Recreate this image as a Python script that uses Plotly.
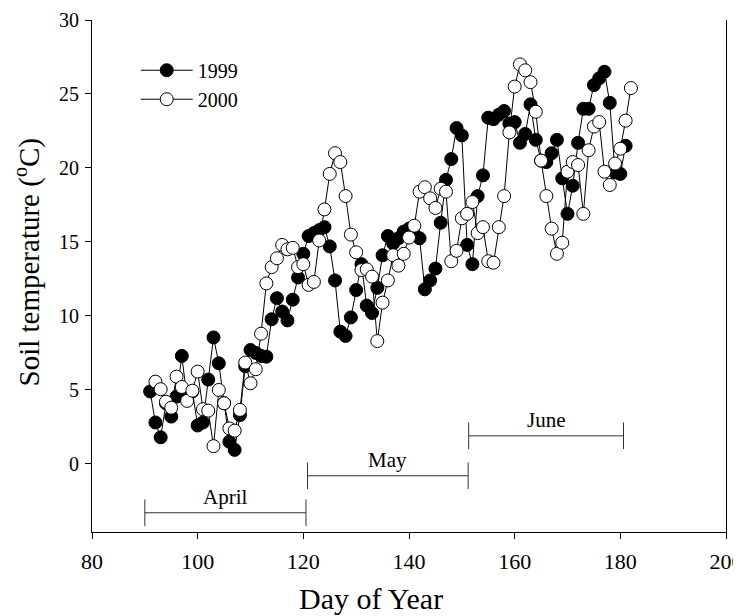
import plotly.graph_objects as go

# ---- data ----
start_1999 = 91
temp_1999 = [4.9, 2.8, 1.8, 4.1, 3.2, 4.55, 7.3, 4.4, 4.9, 2.6,
             2.8, 5.7, 8.55, 6.8, 4.1, 1.5, 0.95, 3.3, 6.6, 7.7,
             7.5, 7.3, 7.25, 9.78, 11.2, 10.3, 9.7, 11.1, 12.6, 14.2,
             15.4, 15.6, 15.8, 16.0, 14.7, 12.4, 8.94, 8.65, 9.9, 11.75,
             13.5, 10.7, 10.2, 11.9, 14.1, 15.4, 14.9, 15.25, 15.7, 15.9,
             15.5, 15.25, 11.8, 12.4, 13.2, 16.3, 19.2, 20.6, 22.7, 22.2,
             14.8, 13.5, 18.1, 19.5, 23.4, 23.3, 23.6, 23.85, 23.0, 23.1,
             21.7, 22.3, 24.3, 21.9, 20.5, 20.4, 21.0, 21.9, 19.3, 16.9,
             18.8, 21.7, 24.0, 24.0, 25.6, 26.06, 26.5, 24.4, 19.7, 19.6,
             21.5]
days_1999 = list(range(start_1999, start_1999 + len(temp_1999)))

start_2000 = 92
temp_2000 = [5.56, 5.05, 4.2, 3.8, 5.9, 5.2, 4.26, 4.95, 6.24, 3.7,
             3.6, 1.2, 5.0, 4.1, 2.4, 2.25, 3.65, 6.85, 5.45, 6.4,
             8.8, 12.2, 13.3, 13.9, 14.8, 14.5, 14.6, 13.3, 13.5, 12.1,
             12.3, 15.1, 17.2, 19.6, 21.0, 20.4, 18.1, 15.5, 14.3, 13.1,
             13.15, 12.66, 8.3, 10.9, 12.4, 14.1, 13.4, 14.2, 15.3, 16.1,
             18.4, 18.7, 17.95, 17.3, 18.6, 18.4, 13.7, 14.4, 16.6, 16.9,
             17.7, 15.6, 16.0, 13.7, 13.6, 16.0, 18.1, 22.4, 25.5, 27.0,
             26.6, 25.8, 23.8, 20.5, 18.1, 15.9, 14.2, 14.95, 19.75, 20.4,
             20.2, 16.9, 21.2, 22.8, 23.1, 19.75, 18.85, 20.3, 21.3, 23.2,
             25.4]
days_2000 = list(range(start_2000, start_2000 + len(temp_2000)))

month_names = ["April", "May", "June"]
month_start = [90.0, 120.8, 151.3]
month_end = [120.5, 151.2, 180.6]
month_bar_y = [-3.3, -0.8, 1.9]
cap_half = 0.9

x_ticks = [80, 100, 120, 140, 160, 180, 200]
y_ticks = [0, 5, 10, 15, 20, 25, 30]

x_title = "Day of Year"
y_title = "Soil temperature (<sup>o</sup>C)"

FONT = "Liberation Serif, Times New Roman, serif"

fig = go.Figure()

# month bars
for name, s, e, yb in zip(month_names, month_start, month_end, month_bar_y):
    fig.add_trace(go.Scatter(
        x=[s, s, None, s, e, None, e, e],
        y=[yb - cap_half, yb + cap_half, None, yb, yb, None, yb - cap_half, yb + cap_half],
        mode="lines", line=dict(color="#333333", width=1),
        showlegend=False, hoverinfo="skip"))
    fig.add_annotation(x=(s + e) / 2, y=yb, text=name, showarrow=False,
                       yshift=16, font=dict(family=FONT, size=21, color="black"))

fig.add_trace(go.Scatter(
    x=days_1999, y=temp_1999, name="1999", mode="lines+markers",
    line=dict(color="black", width=1),
    marker=dict(symbol="circle", size=13, color="black",
                line=dict(color="black", width=1))))
fig.add_trace(go.Scatter(
    x=days_2000, y=temp_2000, name="2000", mode="lines+markers",
    line=dict(color="black", width=1),
    marker=dict(symbol="circle", size=13, color="white",
                line=dict(color="black", width=1))))

# axis titles (centred like the reference, not on the plot area)
fig.add_annotation(xref="paper", yref="paper", x=0.44, y=-0.129,
                   xanchor="center", yanchor="middle", showarrow=False,
                   text=x_title, font=dict(family=FONT, size=30, color="black"))
fig.add_annotation(xref="paper", yref="paper", x=-0.1025, y=0.5264,
                   xanchor="center", yanchor="middle", showarrow=False, textangle=-90,
                   text=y_title, font=dict(family=FONT, size=29, color="black"))

fig.update_layout(
    width=733, height=608,
    margin=dict(l=84, r=15, t=12, b=84),
    paper_bgcolor="white", plot_bgcolor="white",
    font=dict(family=FONT, color="black"),
    xaxis=dict(range=[80, 200], tickvals=x_ticks, automargin=False,
               showgrid=False, zeroline=False, showline=True,
               linecolor="black", linewidth=1, mirror=False,
               ticks="outside", ticklen=6, tickcolor="black",
               ticklabelstandoff=4, ticklabeloverflow="allow",
               tickfont=dict(family=FONT, size=22, color="black")),
    yaxis=dict(range=[-4.6, 30], tickvals=y_ticks, automargin=False,
               showgrid=False, zeroline=False, showline=True,
               linecolor="black", linewidth=1, mirror=True,
               ticks="outside", ticklen=6, tickcolor="black",
               ticklabelstandoff=2,
               tickfont=dict(family=FONT, size=20, color="black")),
    legend=dict(x=0.069, y=0.94, xanchor="left", yanchor="top",
                bgcolor="rgba(0,0,0,0)", font=dict(family=FONT, size=20),
                itemwidth=52, tracegroupgap=0),
)

fig.write_html("out.html")
